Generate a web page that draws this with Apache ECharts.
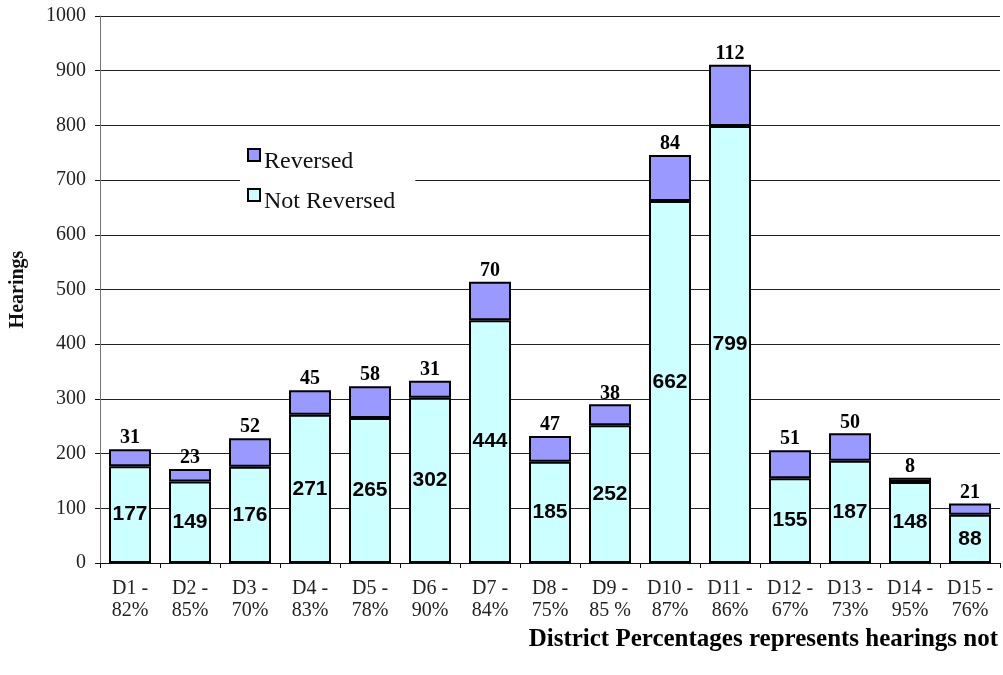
<!DOCTYPE html>
<html>
<head>
<meta charset="utf-8">
<script src="https://cdn.jsdelivr.net/npm/echarts@6/dist/echarts.min.js"></script>
<style>
  html, body { margin: 0; padding: 0; background: #fff; }
  #chart { width: 1003px; height: 675px; }
</style>
</head>
<body>
<div id="chart"></div>
<script>
// Hearings by district, split into decisions not reversed and reversed
const districts = ['D1 -\n82%', 'D2 -\n85%', 'D3 -\n70%', 'D4 -\n83%', 'D5 -\n78%',
  'D6 -\n90%', 'D7 -\n84%', 'D8 -\n75%', 'D9 -\n85 %', 'D10 -\n87%',
  'D11 -\n86%', 'D12 -\n67%', 'D13 -\n73%', 'D14 -\n95%', 'D15 -\n76%'];
const notReversed = [177, 149, 176, 271, 265, 302, 444, 185, 252, 662, 799, 155, 187, 148, 88];
const reversed = [31, 23, 52, 45, 58, 31, 70, 47, 38, 84, 112, 51, 50, 8, 21];

const serif = '"Liberation Serif", "Times New Roman", serif';
const sans = '"Liberation Sans", Arial, sans-serif';

const chart = echarts.init(document.getElementById('chart'));
chart.setOption({
  animation: false,
  backgroundColor: '#fff',
  grid: { left: 100, right: 3, top: 16, bottom: 112, containLabel: false, outerBoundsMode: 'none' },
  legend: {
    orient: 'vertical',
    left: 240,
    top: 141,
    data: ['Reversed', 'Not Reversed'],
    icon: 'rect',
    itemWidth: 12,
    itemHeight: 12,
    itemGap: 14,
    backgroundColor: '#fff',
    padding: [7, 20, 7, 7],
    formatter: '{t|{name}}',
    textStyle: {
      rich: {
        t: { fontFamily: serif, fontSize: 24, color: '#111', padding: [14, 0, 0, -1] }
      }
    }
  },
  xAxis: {
    type: 'category',
    data: districts,
    axisLine: { lineStyle: { color: '#111', width: 1 } },
    axisTick: { show: true, length: 5, lineStyle: { color: '#111' } },
    axisLabel: {
      fontFamily: serif, fontSize: 20, color: '#222', lineHeight: 22, margin: 15,
      interval: 0
    }
  },
  yAxis: {
    type: 'value',
    min: 0, max: 1000, interval: 100,
    name: 'Hearings',
    nameLocation: 'middle',
    nameGap: 72,
    nameRotate: 90,
    nameTextStyle: { fontFamily: serif, fontSize: 20, fontWeight: 'bold', color: '#111' },
    axisLine: { show: true, lineStyle: { color: '#777', width: 1 } },
    axisTick: { show: true, length: 5, lineStyle: { color: '#111' } },
    axisLabel: { fontFamily: serif, fontSize: 20, color: '#222', margin: 14, formatter: v => String(v) },
    splitLine: { show: true, lineStyle: { color: '#222', width: 1 } }
  },
  series: [
    {
      name: 'Not Reversed',
      type: 'bar',
      stack: 'hearings',
      barWidth: 42,
      data: notReversed,
      itemStyle: { color: '#CCFFFF', borderColor: '#000', borderWidth: 2 },
      label: {
        show: true, position: 'inside',
        fontFamily: sans, fontSize: 21, fontWeight: 'bold', color: '#000'
      }
    },
    {
      name: 'Reversed',
      type: 'bar',
      stack: 'hearings',
      barWidth: 42,
      data: reversed,
      itemStyle: { color: '#9999FF', borderColor: '#000', borderWidth: 2 },
      label: {
        show: true, position: 'top', distance: 1,
        fontFamily: serif, fontSize: 20, fontWeight: 'bold', color: '#000'
      }
    }
  ],
  graphic: [
    {
      type: 'text',
      right: 5,
      top: 627,
      style: {
        text: 'District Percentages represents hearings not',
        fontFamily: serif, fontSize: 25, fontWeight: 'bold', fill: '#000'
      }
    }
  ]
});
</script>
</body>
</html>
